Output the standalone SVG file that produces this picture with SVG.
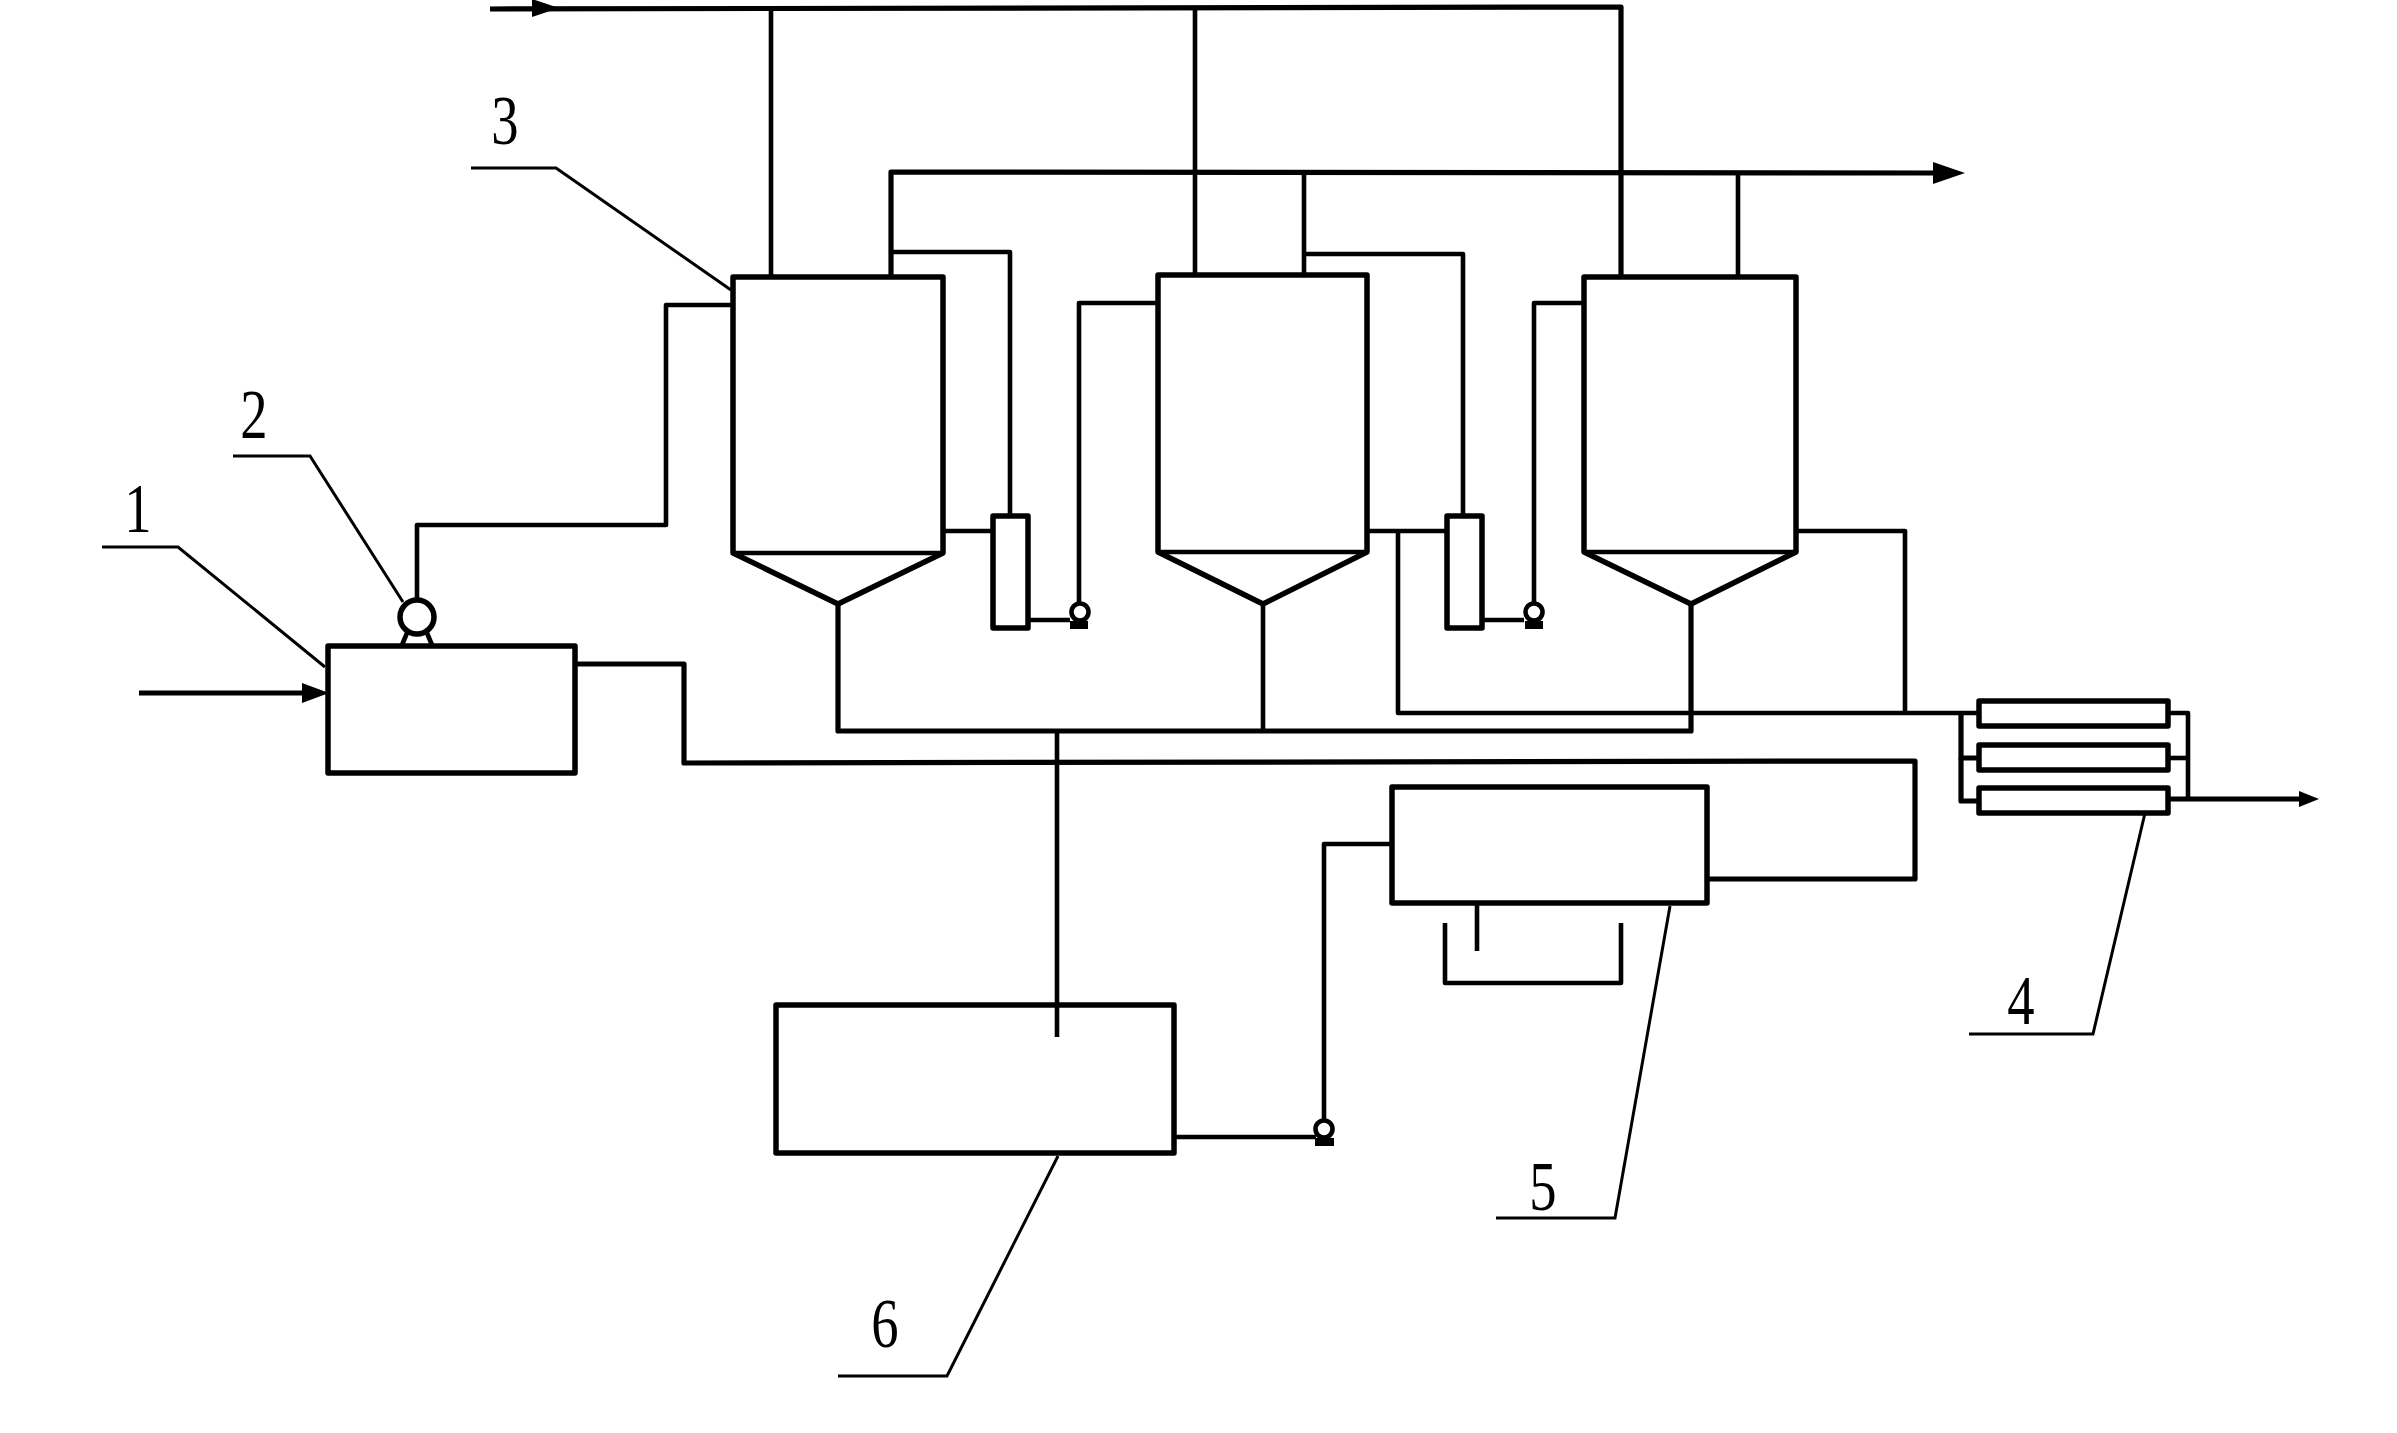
<svg xmlns="http://www.w3.org/2000/svg" width="2397" height="1433" viewBox="0 0 2397 1433">
<style>
.n{fill:#fff;stroke:#000;stroke-width:5.5;stroke-linejoin:round}
.o{fill:none;stroke:#000;stroke-width:5.5;stroke-linejoin:round}
.p{fill:none;stroke:#000;stroke-width:5.2;stroke-linejoin:round}
.t{fill:none;stroke:#000;stroke-width:4.6;stroke-linejoin:round}
.l{fill:none;stroke:#000;stroke-width:3}
.a{fill:#000;stroke:none}
text{font-family:"Liberation Serif","Times New Roman",serif;font-size:70px;fill:#000;text-anchor:middle}
</style>
<rect width="2397" height="1433" fill="#fff"/>
<g id="connectors">
<polyline class="p" points="490,9 1621,7 1621,276"/>
<path class="t" d="M771,8V277M1195,7V276"/>
<polyline class="p" points="891,277 891,172 1933,173"/>
<path class="t" d="M1304,172V276M1738,173V277"/>
<polyline class="t" points="891,252 1010,252 1010,516"/>
<polyline class="t" points="1304,254 1463,254 1463,516"/>
<path class="t" d="M943,531H993M1029,620H1070"/>
<polyline class="t" points="1079,602 1079,303 1158,303"/>
<path class="t" d="M1367,531H1447M1482,620H1524"/>
<polyline class="t" points="1534,602 1534,303 1584,303"/>
<polyline class="p" points="838,604 838,731 1691,731 1691,604"/>
<path class="t" d="M1263,604V730"/>
<polyline class="t" points="1398,531 1398,713 1979,713"/>
<polyline class="t" points="1796,531 1905,531 1905,713"/>
<polyline class="p" points="1979,758 1961,758 1961,713"/>
<polyline class="p" points="1961,758 1961,801 1979,801"/>
<polyline class="t" points="2168,713 2188,713 2188,799"/>
<path class="t" d="M2168,758H2188"/>
<path class="p" d="M2168,799H2300"/>
<polyline class="t" points="417,600 417,525 666,525 666,305 733,305"/>
<polyline class="p" points="139,693 305,693"/>
<polyline class="p" points="575,664 684,664 684,763 1915,761 1915,879 1707,879"/>
<polyline class="t" points="1392,844 1324,844 1324,1122"/>
<path class="t" d="M1175,1137H1316"/>
<path class="t" d="M1057,731V1037"/>
<path class="t" d="M1477,903V951"/>
<polyline class="t" points="1445,923 1445,983 1621,983 1621,923"/>
<path class="a" d="M532,-1L559,8L532,17Z"/>
<path class="a" d="M1933,162L1965,173L1933,184Z"/>
<path class="a" d="M302,683L329,693L302,703Z"/>
<path class="a" d="M2299,791L2319,799L2299,807Z"/>
<polyline class="l" points="471,168 556,168 731,290"/>
<polyline class="l" points="233,456 310,456 403,602"/>
<polyline class="l" points="102,547 178,547 325,667"/>
<polyline class="l" points="1670,906 1615,1218 1496,1218"/>
<polyline class="l" points="1058,1156 947,1376 838,1376"/>
<polyline class="l" points="2145,813 2093,1034 1969,1034"/>
</g>
<g id="node-1"><rect class="o" x="328" y="646" width="247" height="127"/><text transform="translate(138 532) scale(.78 1)">1</text></g>
<g id="node-2"><circle class="n" cx="417" cy="617" r="17"/><path class="t" d="M407,633L402,645M427,633L432,645"/><text transform="translate(254 438) scale(.78 1)">2</text></g>
<g id="node-3">
<polygon class="o" points="733,277 943,277 943,553 838,604 733,553"/><path class="t" d="M733,553H943"/>
<polygon class="o" points="1158,275 1367,275 1367,552 1263,604 1158,552"/><path class="t" d="M1158,552H1367"/>
<polygon class="o" points="1584,277 1796,277 1796,552 1691,604 1584,552"/><path class="t" d="M1584,552H1796"/>
<text transform="translate(505 144) scale(.78 1)">3</text></g>
<g id="condenser-1"><rect class="n" x="993" y="516" width="35" height="112"/></g>
<g id="condenser-2"><rect class="n" x="1447" y="516" width="35" height="112"/></g>
<g id="pump-a"><circle class="t" cx="1080" cy="612" r="8.5"/><rect class="a" x="1070" y="621" width="18" height="8"/></g>
<g id="pump-b"><circle class="t" cx="1534" cy="612" r="8.5"/><rect class="a" x="1525" y="621" width="18" height="8"/></g>
<g id="pump-c"><circle class="t" cx="1324" cy="1129" r="8.5"/><rect class="a" x="1315" y="1138" width="19" height="8"/></g>
<g id="node-4">
<rect class="n" x="1979" y="701" width="189" height="25"/>
<rect class="n" x="1979" y="745" width="189" height="25"/>
<rect class="n" x="1979" y="788" width="189" height="25"/>
<text transform="translate(2021 1024) scale(.78 1)">4</text></g>
<g id="node-5"><rect class="o" x="1392" y="787" width="315" height="116"/><text transform="translate(1543 1210) scale(.78 1)">5</text></g>
<g id="node-6"><rect class="o" x="776" y="1005" width="398" height="148"/><text transform="translate(885 1347) scale(.78 1)">6</text></g>
</svg>
